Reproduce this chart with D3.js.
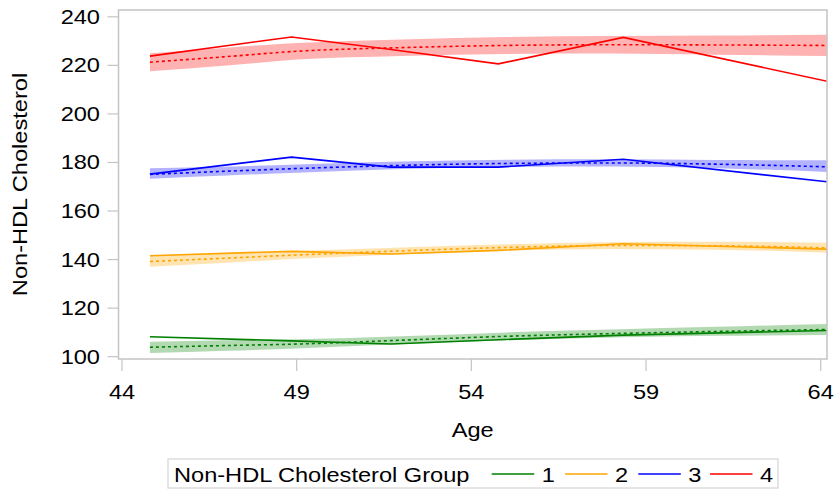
<!DOCTYPE html>
<html>
<head>
<meta charset="utf-8">
<script src="https://cdn.jsdelivr.net/npm/d3@7"></script>
<style>
  body { margin: 0; background: #fff; }
  text { font-family: "Liberation Sans", Arial, sans-serif; fill: #000; }
</style>
</head>
<body>
<svg id="chart" width="839" height="493"></svg>
<script>
// groups
var groups = ["1", "2", "3", "4"];
var groupColors = ["#008000", "#ffa500", "#0000ff", "#ff0000"];

// observed means (solid lines)
var obsAges = [44.8, 48.85, 51.7, 54.77, 58.35, 64.2];
var obs1 = [108.2, 106.5, 105.2, 107.0, 108.9, 110.8];
var obs2 = [141.6, 143.4, 142.3, 143.8, 146.5, 144.3];
var obs3 = [175.2, 182.2, 178.1, 178.1, 181.3, 172.0];
var obs4 = [223.8, 231.7, 226.5, 220.6, 231.5, 213.4];

// fitted trajectories (dotted) with confidence bands
var fitAges = [44.8, 47, 49, 52, 55, 58, 61, 64.2];
var fit1 = [103.9, 104.6, 105.2, 106.8, 108.4, 109.5, 110.4, 111.2];
var lo1  = [101.5, 102.4, 103.4, 105.2, 106.8, 107.9, 108.6, 108.9];
var hi1  = [106.2, 106.8, 107.2, 108.4, 110.0, 111.2, 112.3, 113.5];
var fit2 = [139.2, 140.6, 141.9, 143.6, 145.0, 145.8, 145.7, 144.8];
var lo2  = [137.0, 138.7, 140.3, 142.2, 143.7, 144.4, 144.1, 142.8];
var hi2  = [141.6, 142.6, 143.6, 145.0, 146.3, 147.1, 147.3, 146.9];
var fit3 = [175.1, 176.4, 177.5, 178.8, 179.6, 179.8, 179.3, 178.2];
var lo3  = [173.3, 174.6, 175.8, 177.3, 178.1, 178.3, 177.6, 176.1];
var hi3  = [177.6, 178.3, 179.2, 180.4, 181.1, 181.3, 181.0, 180.9];
var fit4 = [221.3, 223.6, 225.8, 227.3, 228.2, 228.5, 228.4, 228.2];
var lo4  = [217.6, 219.9, 222.4, 223.9, 224.7, 224.9, 224.4, 223.8];
var hi4  = [225.0, 227.3, 229.2, 230.7, 231.7, 232.1, 232.3, 232.6];

var xTicks = [44, 49, 54, 59, 64];
var yTicks = [100, 120, 140, 160, 180, 200, 220, 240];

var obsSeries = [obs1, obs2, obs3, obs4];
var fitSeries = [fit1, fit2, fit3, fit4];
var loSeries = [lo1, lo2, lo3, lo4];
var hiSeries = [hi1, hi2, hi3, hi4];

var svg = d3.select("#chart");
var pLeft = 118.5, pRight = 827, pTop = 10, pBottom = 359;
var stretch = 1.18;

var x = d3.scaleLinear().domain([43.9, 64.18]).range([pLeft, pRight]);
var y = d3.scaleLinear().domain([99.05, 242.8]).range([pBottom, pTop]);

// text drawn a bit wider, like the original font
function label(g, tx, ty, str, anchor, rot, size) {
  return g.append("text")
    .attr("transform", "translate(" + tx + "," + ty + ") rotate(" + (rot || 0) + ") scale(" + stretch + ",1)")
    .attr("text-anchor", anchor)
    .attr("font-size", (size || 20) + "px")
    .text(str);
}

svg.append("defs").append("clipPath").attr("id", "plotclip")
  .append("rect").attr("x", pLeft).attr("y", pTop)
  .attr("width", pRight - pLeft).attr("height", pBottom - pTop);

var plot = svg.append("g").attr("clip-path", "url(#plotclip)");

var band = d3.area()
  .x(function(d) { return x(d.a); })
  .y0(function(d) { return y(d.lo); })
  .y1(function(d) { return y(d.hi); })
  .curve(d3.curveMonotoneX);
var fitLine = d3.line()
  .x(function(d) { return x(d.a); })
  .y(function(d) { return y(d.v); })
  .curve(d3.curveMonotoneX);
var obsLine = d3.line()
  .x(function(d) { return x(d.a); })
  .y(function(d) { return y(d.v); });

groups.forEach(function(g, i) {
  var bd = fitAges.map(function(a, j) { return {a: a, lo: loSeries[i][j], hi: hiSeries[i][j]}; });
  plot.append("path").attr("d", band(bd))
    .attr("fill", groupColors[i]).attr("fill-opacity", 0.3).attr("stroke", "none");
});

groups.forEach(function(g, i) {
  var fd = fitAges.map(function(a, j) { return {a: a, v: fitSeries[i][j]}; });
  plot.append("path").attr("d", fitLine(fd))
    .attr("fill", "none").attr("stroke", groupColors[i])
    .attr("stroke-width", 1.6).attr("stroke-dasharray", "3,3");
  var od = obsAges.map(function(a, j) { return {a: a, v: obsSeries[i][j]}; });
  plot.append("path").attr("d", obsLine(od))
    .attr("fill", "none").attr("stroke", groupColors[i])
    .attr("stroke-width", 1.6);
});

// frame
svg.append("rect").attr("x", pLeft).attr("y", pTop)
  .attr("width", pRight - pLeft).attr("height", pBottom - pTop)
  .attr("fill", "none").attr("stroke", "#c4c4c4").attr("stroke-width", 1.5);

// y axis
var ya = svg.append("g");
yTicks.forEach(function(t) {
  ya.append("line").attr("x1", pLeft - 11).attr("x2", pLeft)
    .attr("y1", y(t)).attr("y2", y(t)).attr("stroke", "#c4c4c4").attr("stroke-width", 1.2);
  label(ya, 100, y(t) + 7, t, "end");
});

// x axis
var xa = svg.append("g");
xTicks.forEach(function(t) {
  xa.append("line").attr("x1", x(t)).attr("x2", x(t))
    .attr("y1", pBottom).attr("y2", pBottom + 12).attr("stroke", "#c4c4c4").attr("stroke-width", 1.2);
  label(xa, x(t), 399, t, "middle");
});

label(svg, (pLeft + pRight) / 2, 437, "Age", "middle");
label(svg, 27, (pTop + pBottom) / 2, "Non-HDL Cholesterol", "middle", -90);

// legend
var lg = svg.append("g");
lg.append("rect").attr("x", 168).attr("y", 459).attr("width", 610).attr("height", 29)
  .attr("fill", "none").attr("stroke", "#d4d4d4").attr("stroke-width", 1.2);
label(lg, 174, 481.5, "Non-HDL Cholesterol Group", "start");
var legX = [491.7, 565, 638.3, 710];
groups.forEach(function(g, i) {
  lg.append("line").attr("x1", legX[i]).attr("x2", legX[i] + 42.5)
    .attr("y1", 474).attr("y2", 474)
    .attr("stroke", groupColors[i]).attr("stroke-width", 1.6);
  label(lg, legX[i] + 50, 481.5, g, "start");
});
</script>
</body>
</html>
